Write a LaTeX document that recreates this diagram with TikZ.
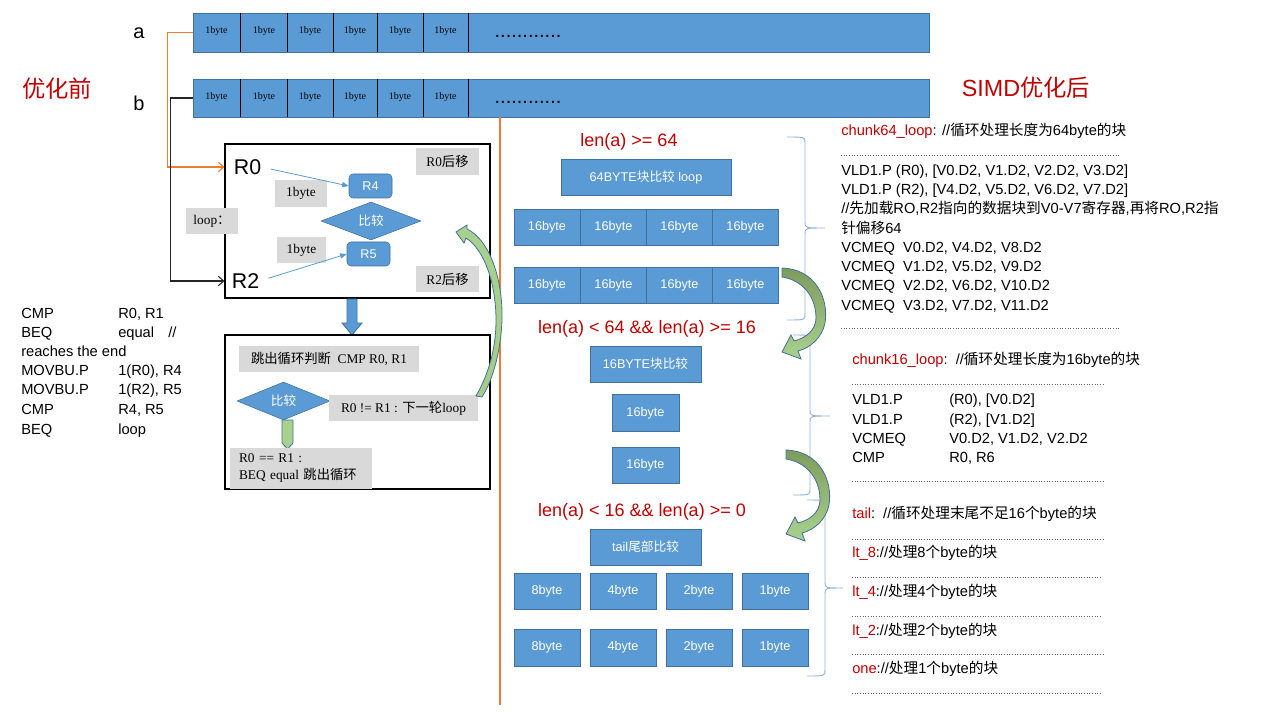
\documentclass[tikz,border=0pt]{standalone}
\usepackage{fontspec}
\setmainfont{Liberation Sans}
\newfontfamily\cjk{Noto Sans CJK SC}
\newfontfamily\serif{Liberation Serif}
\usetikzlibrary{shapes.geometric,arrows.meta}

\newdimen\pxu
\pxu=0.75pt
\newcommand{\zh}[1]{{\cjk #1}}
\newcommand{\fs}[1]{\fontsize{#1pt}{#1pt}\selectfont}

\definecolor{cellblue}{HTML}{5B9BD5}
\definecolor{cellline}{HTML}{41719C}
\definecolor{boxgray}{HTML}{D9D9D9}
\definecolor{darkred}{HTML}{C00000}
\definecolor{divorange}{HTML}{ED7D31}
\definecolor{bracecol}{HTML}{8FB4E0}
\definecolor{arrowdark}{HTML}{7E9C5C}
\definecolor{arrowlight}{HTML}{A9D18E}

\tikzset{
  sz/.style 2 args={minimum width=#1\pxu, minimum height=#2\pxu},
  blk/.style={draw=cellline, fill=cellblue, text=white, inner sep=0pt, font=\fs{9.5}},
  cell/.style={inner sep=0pt, font=\serif\fs{7.5}},
  gbox/.style={fill=boxgray, inner sep=0pt, font=\serif\fs{10}},
  code/.style={anchor=west, inner sep=0pt, font=\fs{11}, text height=8pt, text depth=2pt},
  lenlbl/.style={inner sep=0pt, text=darkred, font=\fs{13.5}},
  ttl/.style={inner sep=0pt, text=darkred, font=\fs{17.5}},
  dotsep/.style={line width=0.75pt, black!60, dash pattern=on 0.6pt off 1.4pt},
  thinblue/.style={draw=cellblue, line width=0.6pt, -{Triangle[length=5pt,width=4pt]}},
  link/.style={line width=0.8pt, -{Straight Barb[length=4pt,width=7pt]}},
  brc/.style={draw=bracecol, line width=0.7pt},
  cmpd/.style={diamond, aspect=2.6, fill=cellblue, draw=cellline, text=white, inner sep=0pt, font=\cjk\fs{9.5}},
  greenarc/.pic={
    \shadedraw[top color=arrowdark, bottom color=arrowlight, draw=cellline, line width=0.6pt]
      (0,0) .. controls (33,1) and (47,30) .. (43,55)
      .. controls (40,70) and (28,80) .. (16,83) -- (19,91) -- (0,84) -- (9,67) -- (12,73)
      .. controls (24,70) and (34,62) .. (34,50)
      .. controls (34,28) and (20,12) .. (0,9) -- cycle;
  }
}

\begin{document}
\begin{tikzpicture}[x=0.75pt, y=-0.75pt]
\fill[white] (0,0) rectangle (1261,713);
\useasboundingbox (0,0) rectangle (1261,713);

% titles
\node[ttl] (before) at (57,89) {\zh{优化前}};
\node[ttl] (after) at (1026,88) {SIMD\zh{优化后}};

% the two byte arrays
\node[font=\fs{15}] (la) at (139,33) {a};
\node[font=\fs{15}] (lb) at (139,103) {b};
\node[draw=cellline, fill=cellblue, sz={736}{39}] (rowa) at (561,32.5) {};
\node[draw=cellline, fill=cellblue, sz={736}{38}] (rowb) at (561,98) {};
\foreach \x in {240,287,333,377,423,468} {
  \draw (\x,13) -- (\x,52);
  \draw (\x,79) -- (\x,117);
}
\foreach \x [count=\i] in {216.5,264,310,355,400,445.5} {
  \node[cell] (a\i) at (\x,31.5) {1byte};
  \node[cell] (b\i) at (\x,97.5) {1byte};
}
\node[inner sep=0pt, font=\fs{15}] (adots) at (528,36.5) {............};
\node[inner sep=0pt, font=\fs{15}] (bdots) at (528,102) {............};

% divider
\draw[divorange, line width=1.5pt] (500,117) -- (500,705);

% loop box
\node[draw, line width=0.8pt, sz={265}{154}] (upbox) at (357.5,221) {};
\node[font=\fs{16}, inner sep=0pt] (r0) at (247.5,167) {R0};
\node[font=\fs{16}, inner sep=0pt] (r2) at (245.5,281) {R2};
\node[gbox, sz={63}{27}] (mv0) at (447.5,161.5) {R0\zh{后移}};
\node[gbox, sz={63}{26}] (mv2) at (447.5,279) {R2\zh{后移}};
\node[gbox, sz={52}{27}] (by1) at (301,193.5) {1byte};
\node[gbox, sz={49}{26}] (by2) at (301.5,250) {1byte};
\node[gbox, sz={52}{26}] (lp) at (212,221) {loop\zh{：}};
\node[cmpd, sz={100}{38}] (cmp1) at (371,221) {比较};
\node[blk, rounded corners=3pt, sz={43}{24}] (r4) at (370.5,186) {R4};
\node[blk, rounded corners=3pt, sz={43}{24}] (r5) at (368.5,254) {R5};
\draw[thinblue, shorten <=7pt] (r0.east) -- (r4.west);
\draw[thinblue, shorten <=7pt] (r2.east) -- (r5.west);

\draw[link, draw=divorange] (rowa.west) -- ++(-25,0) |- (upbox.west |- r0);
\draw[link, draw=black!85] (rowb.west) -- ++(-22,0) |- (upbox.west |- r2);

% step down
\filldraw[fill=cellblue, draw=cellline, line width=0.6pt]
  (347,299) -- (357,299) -- (357,323) -- (362,323) -- (352,335) -- (342,323) -- (347,323) -- cycle;

% exit box
\node[draw, line width=0.8pt, sz={265}{154}] (lowbox) at (357.5,412) {};
\node[gbox, sz={180}{26}] (exitq) at (329,359) {\zh{跳出循环判断}\ \ CMP R0, R1};
\node[cmpd, sz={93}{38}] (cmp2) at (283.5,401) {比较};
\node[gbox, sz={149}{26}] (nxt) at (403.5,408) {R0 != R1 : \zh{下一轮}loop};
\filldraw[fill=arrowlight, draw=cellline, line width=0.6pt]
  (282,420) -- (293,420) -- (293,443) -- (287.5,449) -- (282,443) -- cycle;
\node[gbox, sz={142}{41}, align=left, text width=93pt,
  font=\serif\fontsize{10pt}{12.8pt}\selectfont] (quit) at (301,468)
  {R0 == R1 :\\BEQ equal \zh{跳出循环}};

% back to loop
\shadedraw[top color=arrowlight, bottom color=arrowlight!90!arrowdark, draw=cellline, line width=0.6pt]
  (456,232) -- (467,225) -- (467,229) .. controls (490,240) and (503,280) .. (502,320)
  .. controls (501,350) and (493,380) .. (482,397) -- (476,396)
  .. controls (488,375) and (496,350) .. (496,320)
  .. controls (496,285) and (485,250) .. (466,238) -- (464,243) -- cycle;

% asm before
\node[code] (l1a) at (21,314) {CMP};      \node[code] (l1b) at (118,314) {R0, R1};
\node[code] (l2a) at (21,333) {BEQ};      \node[code] (l2b) at (118,333) {equal};
\node[code] (l2c) at (168,333) {//};
\node[code] (l3a) at (21,352) {reaches the end};
\node[code] (l4a) at (21,371) {MOVBU.P};  \node[code] (l4b) at (118,371) {1(R0), R4};
\node[code] (l5a) at (21,390) {MOVBU.P};  \node[code] (l5b) at (118,390) {1(R2), R5};
\node[code] (l6a) at (21,410) {CMP};      \node[code] (l6b) at (118,410) {R4, R5};
\node[code] (l7a) at (21,430) {BEQ};      \node[code] (l7b) at (118,430) {loop};

% SIMD blocks
\node[lenlbl] (len64) at (629,142) {len(a) >= 64};
\node[blk, sz={170}{36}] (blk64) at (646,177) {64BYTE\zh{块比较} loop};
\foreach \x [count=\i] in {547,613.5,679.5,745.5} {
  \node[blk, sz={66.3}{36.5}] (p\i) at (\x,227.5) {16byte};
  \node[blk, sz={66.3}{36.5}] (q\i) at (\x,285.5) {16byte};
}
\node[lenlbl] (len16) at (647,329) {len(a) < 64 \&\& len(a) >= 16};
\node[blk, sz={111}{36}] (blk16) at (645.5,364) {16BYTE\zh{块比较}};
\node[blk, sz={67}{36.5}] (s1) at (645.5,413) {16byte};
\node[blk, sz={67}{36}] (s2) at (645.5,465) {16byte};
\node[lenlbl] (len0) at (642,512) {len(a) < 16 \&\& len(a) >= 0};
\node[blk, sz={111}{36}] (blkt) at (645.5,547) {tail\zh{尾部比较}};
\foreach \x/\t [count=\i] in {547/8byte,623/4byte,699/2byte,775/1byte} {
  \node[blk, sz={66}{36}] (t\i) at (\x,591) {\t};
  \node[blk, sz={66}{37}] (u\i) at (\x,647.5) {\t};
}

% braces
\draw[brc] (787,137) .. controls (805,137) .. (805,143) -- (805,222) .. controls (805,228) .. (825,228)
  .. controls (805,228) .. (805,234) -- (805,314) .. controls (805,320) .. (787,320);
\draw[brc] (793,335) .. controls (810,335) .. (810,341) -- (810,410) .. controls (810,416) .. (830,416)
  .. controls (810,416) .. (810,422) -- (810,489) .. controls (810,495) .. (793,495);
\draw[brc] (807,500) .. controls (825,500) .. (825,506) -- (825,582) .. controls (825,588) .. (843,588)
  .. controls (825,588) .. (825,594) -- (825,670) .. controls (825,676) .. (807,676);

% fall through arrows
\pic at (782,268) {greenarc};
\pic at (786,450) {greenarc};

% chunk64
\node[code] (c64) at (841,131.5) {\textcolor{darkred}{chunk64\_loop}: //\zh{循环处理长度为}64byte\zh{的块}};
\draw[dotsep] (841,155.5) -- (1120,155.5);
\node[code] (c64a) at (841,171.5) {VLD1.P (R0), [V0.D2, V1.D2, V2.D2, V3.D2]};
\node[code] (c64b) at (841,191) {VLD1.P (R2), [V4.D2, V5.D2, V6.D2, V7.D2]};
\node[code] (c64c) at (841,210) {//\zh{先加载}RO,R2\zh{指向的数据块到}V0-V7\zh{寄存器},\zh{再将}RO,R2\zh{指}};
\node[code] (c64d) at (841,229.5) {\zh{针偏移}64};
\node[code] (c64e) at (841,248.5) {VCMEQ\ \ V0.D2, V4.D2, V8.D2};
\node[code] (c64f) at (841,267.5) {VCMEQ\ \ V1.D2, V5.D2, V9.D2};
\node[code] (c64g) at (841,287) {VCMEQ\ \ V2.D2, V6.D2, V10.D2};
\node[code] (c64h) at (841,306.5) {VCMEQ\ \ V3.D2, V7.D2, V11.D2};
\draw[dotsep] (841,328.5) -- (1120,328.5);

% chunk16
\node[code] (c16) at (852,360.5) {\textcolor{darkred}{chunk16\_loop}:\ \ //\zh{循环处理长度为}16byte\zh{的块}};
\draw[dotsep] (852,384) -- (1105,384);
\node[code] (c16a) at (852,400.5) {VLD1.P}; \node[code] (c16b) at (949,400.5) {(R0), [V0.D2]};
\node[code] (c16c) at (852,420) {VLD1.P};   \node[code] (c16d) at (949,420) {(R2), [V1.D2]};
\node[code] (c16e) at (852,439.5) {VCMEQ};  \node[code] (c16f) at (949,439.5) {V0.D2, V1.D2, V2.D2};
\node[code] (c16g) at (852,458.5) {CMP};    \node[code] (c16h) at (949,458.5) {R0, R6};
\draw[dotsep] (852,481.5) -- (1105,481.5);

% tail
\node[code] (tl) at (852,514) {\textcolor{darkred}{tail}:\ \ //\zh{循环处理末尾不足}16\zh{个}byte\zh{的块}};
\draw[dotsep] (852,539) -- (1105,539);
\node[code] (lt8) at (852,553.5) {\textcolor{darkred}{lt\_8}://\zh{处理}8\zh{个}byte\zh{的块}};
\draw[dotsep] (852,577) -- (1101,577);
\node[code] (lt4) at (852,592.5) {\textcolor{darkred}{lt\_4}://\zh{处理}4\zh{个}byte\zh{的块}};
\draw[dotsep] (852,616) -- (1101,616);
\node[code] (lt2) at (852,631) {\textcolor{darkred}{lt\_2}://\zh{处理}2\zh{个}byte\zh{的块}};
\draw[dotsep] (852,654.5) -- (1105,654.5);
\node[code] (one) at (852,669.5) {\textcolor{darkred}{one}://\zh{处理}1\zh{个}byte\zh{的块}};
\draw[dotsep] (852,693.5) -- (1101,693.5);

\end{tikzpicture}
\end{document}
